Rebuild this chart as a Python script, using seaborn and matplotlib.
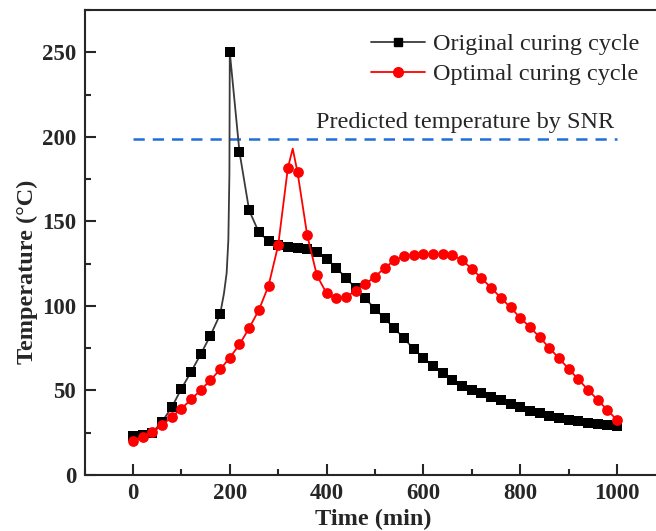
import numpy as np
import pandas as pd
import matplotlib
matplotlib.use("Agg")
import matplotlib.pyplot as plt
from matplotlib.lines import Line2D
from matplotlib.ticker import MultipleLocator
import seaborn as sns

# Sampled cure temperatures (every 20 min)
time_min = np.arange(0, 1001, 20)
original_temp = [23, 23.6, 25, 31.5, 40, 51, 61, 71.5, 82.5, 95,
                 250, 191, 156.5, 143.5, 138.5,
                 136, 135, 134.4, 133.6, 132,
                 128, 122.5, 116.6, 110.5, 104.4,
                 98.3, 92.6, 86.7, 80.8, 74.5,
                 69.4, 64.4, 60.1, 56, 52.8,
                 50.4, 48.3, 45.9, 44.1, 42.2,
                 40, 38, 36.6, 35, 33.7,
                 32.5, 31.7, 30.7, 30.1, 29.4,
                 29.2]
optimal_temp = [20.3, 22.3, 25.2, 29.5, 34.3, 39.2, 44.7, 50.2, 56.1, 62.4,
                69.4, 77.2, 86.9, 97.5, 111.9,
                135.9, 181.6, 178.9, 141.7, 118,
                107.4, 104.4, 105.4, 108.8, 112.9,
                117.3, 122.5, 126.9, 129.4, 130.4,
                130.8, 130.8, 130.8, 130.2, 126.9,
                122, 116.4, 110.7, 104.8, 99.1,
                93, 87.5, 81.6, 75.2, 69.1,
                62.8, 56.6, 50.4, 44.5, 38.4,
                32.5]

# Extra recorded points between symbols (exotherm peaks)
original_rise_time = [188, 193.5, 197, 199.2]
original_rise_temp = [107.5, 119.5, 139, 178]
optimal_peak_time = [330]
optimal_peak_temp = [193]

snr_temp = 198.8
snr_span = [0, 1000]

labels = ["Original curing cycle", "Optimal curing cycle"]
snr_label = "Predicted temperature by SNR"

sns.set_style("ticks")
plt.rcParams["font.family"] = ["Liberation Serif", "DejaVu Serif"]
plt.rcParams["axes.linewidth"] = 1.5

fig = plt.figure(figsize=(6.56, 5.31), dpi=100)
ax = fig.add_axes([84.6 / 656, 1 - 475 / 531, (662 - 84.6) / 656, (475 - 10) / 531])

orig_line = pd.DataFrame({
    "t": np.concatenate([time_min, original_rise_time]),
    "T": np.concatenate([original_temp, original_rise_temp]),
}).sort_values("t")
opt_line = pd.DataFrame({
    "t": np.concatenate([time_min, optimal_peak_time]),
    "T": np.concatenate([optimal_temp, optimal_peak_temp]),
}).sort_values("t")

black_line = "#3a3a3a"
red = "#ff0000"
blue = "#1f6fd8"

sns.lineplot(data=orig_line, x="t", y="T", color=black_line, lw=1.3,
             estimator=None, sort=False, ax=ax, zorder=2)
sns.scatterplot(x=time_min, y=original_temp, marker="s", s=52, color="black",
                edgecolor="black", linewidth=0, ax=ax, zorder=3)
sns.lineplot(data=opt_line, x="t", y="T", color=red, lw=1.3,
             estimator=None, sort=False, ax=ax, zorder=4)
sns.scatterplot(x=time_min, y=optimal_temp, marker="o", s=60, color=red,
                edgecolor=red, linewidth=0, ax=ax, zorder=5)

sns.lineplot(x=snr_span, y=[snr_temp, snr_temp], color=blue, lw=1.8,
             linestyle=(0, (4.5, 3.2)), ax=ax, zorder=1)
ax.text(686, 208.6, snr_label, ha="center", va="center", fontsize=17.5)

ax.set_xlim(-100, 1093)
ax.set_ylim(0, 275)
ax.xaxis.set_major_locator(MultipleLocator(200))
ax.xaxis.set_minor_locator(MultipleLocator(100))
ax.yaxis.set_major_locator(MultipleLocator(50))
ax.yaxis.set_minor_locator(MultipleLocator(25))
ax.tick_params(which="both", direction="in", width=1.5, top=False, right=False)
ax.tick_params(which="major", length=8, pad=6, labelsize=16.5)
ax.tick_params(which="minor", length=4.5)
for lab in ax.get_xticklabels() + ax.get_yticklabels():
    lab.set_fontweight("bold")

ax.set_xlabel("Time (min)", fontsize=17.5, fontweight="bold", labelpad=3.5)
ax.set_ylabel("Temperature (°C)", fontsize=17.5, fontweight="bold")
ax.yaxis.set_label_coords(-0.081, 0.437)

for sp in ax.spines.values():
    sp.set_visible(True)
    sp.set_linewidth(1.5)

handles = [
    Line2D([], [], color=black_line, lw=1.3, marker="s", markersize=5.5,
           markerfacecolor="black", markeredgecolor="black"),
    Line2D([], [], color=red, lw=1.3, marker="o", markersize=7,
           markerfacecolor=red, markeredgecolor=red),
]
ax.legend(handles, labels, loc="upper right", bbox_to_anchor=(639 / 656, 1 - 33 / 531),
          bbox_transform=fig.transFigure, frameon=False, fontsize=17.5,
          handlelength=2.25, handletextpad=0.3, labelspacing=0.33, borderpad=0,
          borderaxespad=0)

fig.savefig("out.png", dpi=100)
